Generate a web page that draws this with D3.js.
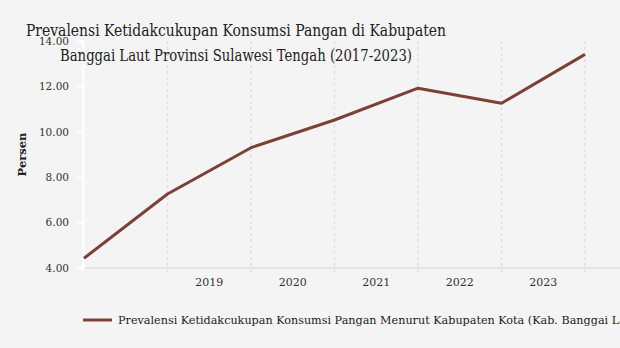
<!DOCTYPE html>
<html>
<head>
<meta charset="utf-8">
<script src="https://cdn.jsdelivr.net/npm/d3@7"></script>
<style>
  html, body { margin: 0; padding: 0; background: #f4f4f4; overflow: hidden; }
  svg { display: block; }
</style>
</head>
<body>
<div id="chart"></div>
<script>
// Prevalence of insufficient food consumption, Kab. Banggai Laut
const years = [2017, 2018, 2019, 2020, 2021, 2022, 2023];
const prevalence = [4.43, 7.26, 9.30, 10.52, 11.92, 11.26, 13.41];
const yTicks = [4, 6, 8, 10, 12, 14];
const xTickLabels = [2019, 2020, 2021, 2022, 2023];
const titleLines = [
  "Prevalensi Ketidakcukupan Konsumsi Pangan di Kabupaten",
  "Banggai Laut Provinsi Sulawesi Tengah (2017-2023)"
];
const yAxisTitle = "Persen";
const seriesName = "Prevalensi Ketidakcukupan Konsumsi Pangan Menurut Kabupaten Kota (Kab. Banggai Laut)";

const W = 620, H = 348;
const margin = { top: 41, right: 35, bottom: 80, left: 84 };
const lineColor = "#7c4037";
const serif = "'DejaVu Serif', serif";

const svg = d3.select("#chart").append("svg")
  .attr("width", W).attr("height", H);

svg.append("rect").attr("width", W).attr("height", H).attr("fill", "#f4f4f4");

const x = d3.scaleLinear()
  .domain([d3.min(years), d3.max(years)])
  .range([margin.left, W - margin.right]);
const y = d3.scaleLinear()
  .domain([4, 14])
  .range([H - margin.bottom, margin.top]);

const step = x(years[1]) - x(years[0]);

// vertical dotted grid lines
svg.append("g").selectAll("line")
  .data(years.slice(1))
  .join("line")
  .attr("x1", d => x(d)).attr("x2", d => x(d))
  .attr("y1", margin.top).attr("y2", y(4) + 6)
  .attr("stroke", "#dedede")
  .attr("stroke-width", 1.5)
  .attr("stroke-dasharray", "3,3");

// x axis baseline
svg.append("line")
  .attr("x1", margin.left - 1).attr("x2", W)
  .attr("y1", y(4)).attr("y2", y(4))
  .attr("stroke", "#e4e4e4").attr("stroke-width", 2);

// x tick labels, centred in the interval that ends at each year
svg.append("g").selectAll("text")
  .data(xTickLabels)
  .join("text")
  .attr("x", d => x(d) - step / 2)
  .attr("y", 286)
  .attr("text-anchor", "middle")
  .attr("font-family", serif)
  .attr("font-size", 11)
  .attr("fill", "#333")
  .text(d => d);

// y axis
const yAxis = d3.axisLeft(y)
  .tickValues(yTicks)
  .tickFormat(d3.format(".2f"))
  .tickSize(6)
  .tickPadding(8);
const gy = svg.append("g")
  .attr("transform", `translate(${margin.left - 1},0)`)
  .call(yAxis);
gy.select(".domain").attr("stroke", "#ffffff").attr("stroke-width", 2);
gy.selectAll(".tick line").attr("stroke", "#ffffff").attr("stroke-width", 1.5);
gy.selectAll(".tick text")
  .attr("font-family", serif)
  .attr("font-size", 10.5)
  .attr("fill", "#333");

// y axis title
svg.append("text")
  .attr("transform", `translate(26,${(margin.top + y(4)) / 2}) rotate(-90)`)
  .attr("text-anchor", "middle")
  .attr("font-family", serif)
  .attr("font-weight", "bold")
  .attr("font-size", 11.5)
  .attr("fill", "#222")
  .text(yAxisTitle);

// series line
const line = d3.line()
  .x((d, i) => x(years[i]))
  .y(d => y(d));
svg.append("path")
  .datum(prevalence)
  .attr("d", line)
  .attr("fill", "none")
  .attr("stroke", lineColor)
  .attr("stroke-width", 3)
  .attr("stroke-linejoin", "round");

// two-line centred title
const titleWidths = [420, 352];
const title = svg.append("g")
  .attr("font-family", "'DejaVu Serif Condensed', 'DejaVu Serif', serif")
  .attr("font-stretch", "condensed")
  .attr("fill", "#222");
titleLines.forEach((t, i) => {
  title.append("text")
    .attr("x", 236)
    .attr("y", 36 + i * 25)
    .attr("text-anchor", "middle")
    .attr("font-size", 17.5)
    .attr("textLength", titleWidths[i])
    .attr("lengthAdjust", "spacingAndGlyphs")
    .text(t);
});

// legend
const leg = svg.append("g");
leg.append("line")
  .attr("x1", 83).attr("x2", 112)
  .attr("y1", 320).attr("y2", 320)
  .attr("stroke", lineColor).attr("stroke-width", 3);
leg.append("text")
  .attr("x", 118).attr("y", 324)
  .attr("font-family", serif)
  .attr("font-size", 11.2)
  .attr("fill", "#222")
  .text(seriesName);
</script>
</body>
</html>
